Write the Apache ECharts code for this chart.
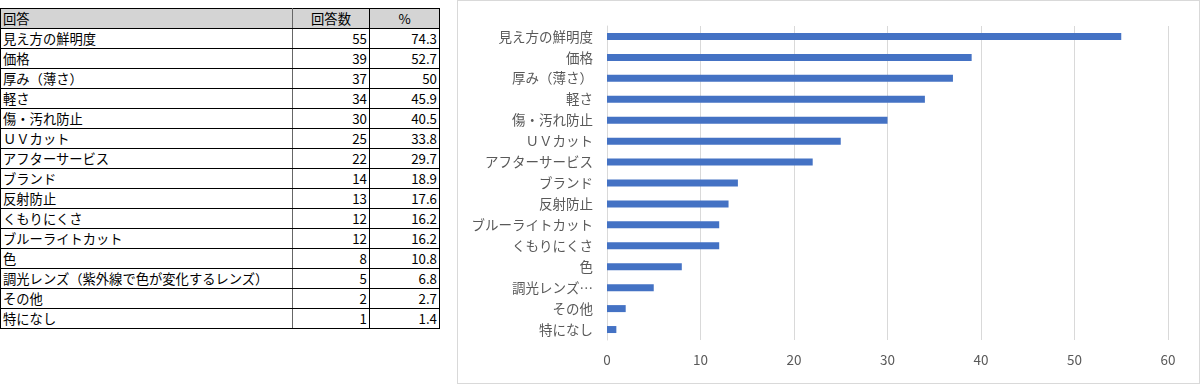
<!DOCTYPE html>
<html><head><meta charset="utf-8">
<script src="https://cdn.jsdelivr.net/npm/echarts@6/dist/echarts.min.js"></script>
<style>
html,body{margin:0;padding:0;background:#fff;width:1200px;height:385px;overflow:hidden;font-family:"Noto Sans CJK JP","Noto Sans",sans-serif;}
#tbl{position:absolute;left:0;top:8px;border-collapse:collapse;font-size:13.3px;color:#000;}
#tbl td{border:1px solid #000;height:18px;line-height:18px;padding:1px 2px 0 2px;white-space:nowrap;overflow:hidden;}
#tbl tr.h td{background:#d4d4d4;}
#tbl td.c1{width:287px;max-width:287px;border-right:1px solid #666;}
#tbl td.c2{width:72px;text-align:right;}
#tbl td.c3{width:65px;text-align:right;}
#tbl tr.h td.c2,#tbl tr.h td.c3{text-align:center;}
#chart{position:absolute;left:457px;top:0;width:741px;height:382px;border:1px solid #d9d9d9;}
</style></head><body>
<table id="tbl"></table>
<div id="chart"></div>
<script>
// Table data
var tableHeaders = ['回答', '回答数', '%'];
var tableAnswers = ['見え方の鮮明度','価格','厚み（薄さ）','軽さ','傷・汚れ防止','ＵＶカット','アフターサービス','ブランド','反射防止','くもりにくさ','ブルーライトカット','色','調光レンズ（紫外線で色が変化するレンズ）','その他','特になし'];
var tableCounts = [55,39,37,34,30,25,22,14,13,12,12,8,5,2,1];
var tablePercents = ['74.3','52.7','50','45.9','40.5','33.8','29.7','18.9','17.6','16.2','16.2','10.8','6.8','2.7','1.4'];

// Chart data (top to bottom as displayed)
var chartCategories = ['見え方の鮮明度','価格','厚み（薄さ）','軽さ','傷・汚れ防止','ＵＶカット','アフターサービス','ブランド','反射防止','ブルーライトカット','くもりにくさ','色','調光レンズ（紫外線で色が変化するレンズ）','その他','特になし'];
var chartValues = [55,39,37,34,30,25,22,14,13,12,12,8,5,2,1];
var xTicks = [0,10,20,30,40,50,60];

// build table
var tbl = document.getElementById('tbl');
var html = '<tr class="h"><td class="c1">'+tableHeaders[0]+'</td><td class="c2">'+tableHeaders[1]+'</td><td class="c3">'+tableHeaders[2]+'</td></tr>';
for (var i=0;i<tableAnswers.length;i++){
  html += '<tr><td class="c1">'+tableAnswers[i]+'</td><td class="c2">'+tableCounts[i]+'</td><td class="c3">'+tablePercents[i]+'</td></tr>';
}
tbl.innerHTML = html;

var chart = echarts.init(document.getElementById('chart'), null, {renderer:'canvas'});
chart.setOption({
  animation:false,
  grid:{left:149,right:31,top:25,bottom:43,containLabel:false},
  xAxis:{type:'value',min:xTicks[0],max:xTicks[xTicks.length-1],interval:10,
    axisLine:{show:false},axisTick:{show:false},
    axisLabel:{color:'#595959',fontSize:13.5,margin:13,fontFamily:'"Noto Sans CJK JP",sans-serif'},
    splitLine:{show:true,lineStyle:{color:'#d9d9d9',width:1}}},
  yAxis:{type:'category',inverse:true,data:chartCategories,
    axisLine:{show:true,lineStyle:{color:'#d9d9d9'}},axisTick:{show:false},
    axisLabel:{color:'#595959',fontSize:13.5,margin:14,fontFamily:'"Noto Sans CJK JP",sans-serif',
      formatter:function(v){return v.length>10? v.slice(0,5)+'…' : v;}}},
  series:[{type:'bar',data:chartValues,barWidth:7,itemStyle:{color:'#4472C4'}}]
});
</script>
</body></html>
